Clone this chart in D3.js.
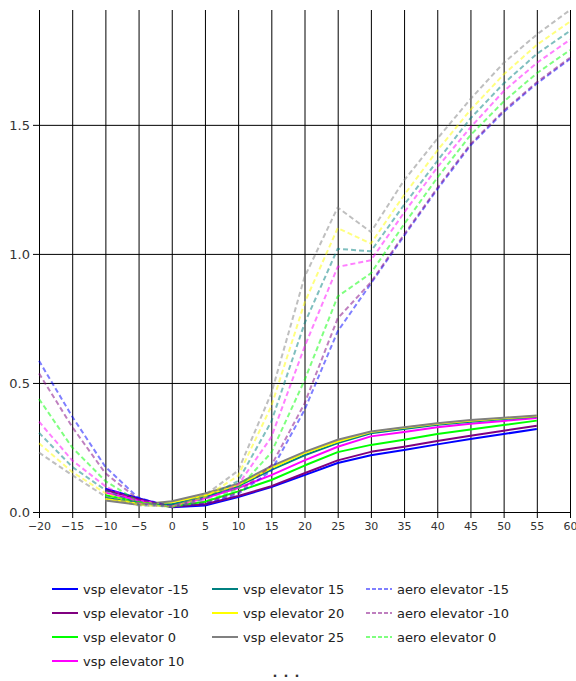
<!DOCTYPE html>
<html lang="en">
<head>
    <meta charset="UTF-8">
    <title>vsp / aero elevator sweep</title>
    <script src="https://d3js.org/d3.v7.min.js"></script>
    <style>
        html, body {
            margin: 0;
            background: #fff;
        }
        text {
            font-family: "DejaVu Sans", sans-serif;
        }
    </style>
</head>
<body>
    <div id="vis"></div>
    <script>

        // alpha values (x axis)
        var aeroAlpha = [-20, -15, -10, -5, 0, 5, 10, 15, 20, 25, 30, 35, 40, 45, 50, 55, 60];
        var vspAlpha = [-10, -5, 0, 5, 10, 15, 20, 25, 30, 35, 40, 45, 50, 55];

        var elevators = [-15, -10, 0, 10, 15, 20, 25];
        var colours = ["#0000ff", "#800080", "#00ff00", "#ff00ff", "#008080", "#ffff00", "#808080"];

        // vsp results, one array per elevator setting
        var vspM15 = [0.090, 0.053, 0.018, 0.025, 0.058, 0.097, 0.143, 0.190, 0.220, 0.240, 0.262, 0.283, 0.302, 0.322];
        var vspM10 = [0.085, 0.050, 0.020, 0.030, 0.062, 0.100, 0.150, 0.200, 0.233, 0.253, 0.275, 0.295, 0.315, 0.334];
        var vsp0   = [0.065, 0.040, 0.022, 0.040, 0.080, 0.124, 0.180, 0.232, 0.260, 0.280, 0.302, 0.320, 0.337, 0.354];
        var vsp10  = [0.075, 0.045, 0.025, 0.054, 0.093, 0.143, 0.200, 0.253, 0.293, 0.310, 0.328, 0.342, 0.353, 0.364];
        var vsp15  = [0.055, 0.035, 0.030, 0.060, 0.100, 0.163, 0.220, 0.267, 0.305, 0.322, 0.338, 0.350, 0.360, 0.370];
        var vsp20  = [0.050, 0.032, 0.038, 0.065, 0.105, 0.170, 0.228, 0.273, 0.310, 0.326, 0.342, 0.354, 0.363, 0.372];
        var vsp25  = [0.045, 0.028, 0.042, 0.072, 0.110, 0.178, 0.233, 0.280, 0.312, 0.328, 0.344, 0.356, 0.365, 0.374];

        // aero results, one array per elevator setting
        var aeroM15 = [0.586, 0.370, 0.175, 0.054, 0.022, 0.032, 0.070, 0.160, 0.395, 0.700, 0.885, 1.070, 1.250, 1.420, 1.550, 1.660, 1.755];
        var aeroM10 = [0.537, 0.330, 0.150, 0.048, 0.021, 0.035, 0.075, 0.180, 0.420, 0.750, 0.890, 1.075, 1.255, 1.425, 1.555, 1.665, 1.760];
        var aero0   = [0.438, 0.250, 0.120, 0.040, 0.020, 0.040, 0.090, 0.230, 0.510, 0.835, 0.925, 1.115, 1.295, 1.460, 1.590, 1.700, 1.790];
        var aero10  = [0.350, 0.200, 0.100, 0.034, 0.020, 0.047, 0.105, 0.290, 0.640, 0.950, 0.975, 1.160, 1.335, 1.490, 1.630, 1.740, 1.830];
        var aero15  = [0.307, 0.175, 0.085, 0.030, 0.020, 0.052, 0.120, 0.350, 0.730, 1.020, 1.010, 1.190, 1.360, 1.525, 1.660, 1.775, 1.864];
        var aero20  = [0.266, 0.155, 0.073, 0.027, 0.021, 0.058, 0.140, 0.410, 0.810, 1.100, 1.040, 1.228, 1.400, 1.558, 1.695, 1.810, 1.900];
        var aero25  = [0.230, 0.143, 0.060, 0.025, 0.022, 0.065, 0.160, 0.460, 0.910, 1.180, 1.085, 1.285, 1.446, 1.600, 1.740, 1.850, 1.945];

        var yTicks = [0, 0.5, 1.0, 1.5];

        var vspValues = [vspM15, vspM10, vsp0, vsp10, vsp15, vsp20, vsp25];
        var aeroValues = [aeroM15, aeroM10, aero0, aero10, aero15, aero20, aero25];

        var series = [];
        elevators.forEach(function(e, i) {
            series.push({name: "vsp elevator " + e, type: "vsp", colour: colours[i],
                points: vspAlpha.map(function(a, j) { return {x: a, y: vspValues[i][j]}; })});
        });
        elevators.forEach(function(e, i) {
            series.push({name: "aero elevator " + e, type: "aero", colour: colours[i],
                points: aeroAlpha.map(function(a, j) { return {x: a, y: aeroValues[i][j]}; })});
        });

        var view_width = 576;
        var view_height = 681;
        var margin = {top: 10, bottom: 169, left: 39, right: 6};
        var width = view_width - margin.left - margin.right;
        var height = view_height - margin.top - margin.bottom;

        var svg = d3.select('#vis')
            .append('svg')
                .attr('width', view_width)
                .attr('height', view_height)
            .append('g')
                .attr('transform', 'translate(' + margin.left + ',' + margin.top + ')');

        var x_scale = d3.scaleLinear()
            .domain([d3.min(aeroAlpha), d3.max(aeroAlpha)])
            .range([0, width]);

        var yMax = d3.max(series, function(s) { return d3.max(s.points, function(p) { return p.y; }); });
        var y_scale = d3.scaleLinear()
            .domain([0, yMax])
            .range([height, 0]);

        // vertical grid (doubles as x ticks)
        var x_axis = d3.axisBottom(x_scale)
            .ticks(16)
            .tickSize(height + 6)
            .tickPadding(4)
            .tickFormat(d3.format('d'));

        var gx = svg.append('g')
            .attr('class', 'x axis')
            .call(x_axis);
        gx.select('.domain').remove();
        gx.selectAll('line').attr('stroke', '#000');
        gx.selectAll('text')
            .attr('fill', '#333')
            .style('font-size', '11px');

        var y_axis = d3.axisLeft(y_scale)
            .tickValues(yTicks)
            .tickSize(width + 6)
            .tickPadding(3)
            .tickFormat(d3.format('.1f'));

        var gy = svg.append('g')
            .attr('class', 'y axis')
            .attr('transform', 'translate(' + width + ',0)')
            .call(y_axis);
        gy.select('.domain').remove();
        gy.selectAll('line').attr('stroke', '#000');
        gy.selectAll('text')
            .attr('fill', '#333')
            .style('font-size', '13px');

        var line = d3.line()
            .x(function(d) { return x_scale(d.x); })
            .y(function(d) { return y_scale(d.y); });

        svg.selectAll('.series')
            .data(series)
            .enter()
            .append('path')
                .attr('class', 'series')
                .attr('fill', 'none')
                .attr('stroke', function(d) { return d.colour; })
                .attr('stroke-width', 2)
                .attr('stroke-linejoin', 'round')
                .attr('stroke-opacity', function(d) { return d.type === 'aero' ? 0.5 : 1; })
                .attr('stroke-dasharray', function(d) { return d.type === 'aero' ? '5,3' : null; })
                .attr('d', function(d) { return line(d.points); });

        // legend: vsp entries fill two columns of four, then the first aero entries
        var legendCols = [52, 212, 366];
        var legendTop = 589;
        var rowStep = 24;
        var shown = series.filter(function(s) { return s.type === 'vsp'; })
            .concat(series.filter(function(s) { return s.type === 'aero'; }).slice(0, 3));

        var legend = d3.select('svg').append('g').attr('class', 'legend');
        var items = legend.selectAll('.item')
            .data(shown)
            .enter()
            .append('g')
                .attr('class', 'item')
                .attr('transform', function(d, i) {
                    var col = d.type === 'vsp' ? Math.floor(i / 4) : 2;
                    var row = d.type === 'vsp' ? i % 4 : i - 7;
                    return 'translate(' + legendCols[col] + ',' + (legendTop + row * rowStep) + ')';
                });

        items.append('line')
            .attr('x1', 0).attr('x2', 26)
            .attr('y1', 0).attr('y2', 0)
            .attr('stroke', function(d) { return d.colour; })
            .attr('stroke-width', 2)
            .attr('stroke-opacity', function(d) { return d.type === 'aero' ? 0.5 : 1; })
            .attr('stroke-dasharray', function(d) { return d.type === 'aero' ? '4,2' : null; });

        items.append('text')
            .attr('x', 31)
            .attr('dy', '0.35em')
            .attr('fill', '#222')
            .style('font-size', '13px')
            .text(function(d) { return d.name; });

        legend.append('text')
            .attr('x', 289)
            .attr('y', 677)
            .attr('text-anchor', 'middle')
            .attr('fill', '#333')
            .style('font-size', '13px')
            .style('font-weight', 'bold')
            .style('letter-spacing', '6px')
            .text('...');
    </script>
</body>
</html>
